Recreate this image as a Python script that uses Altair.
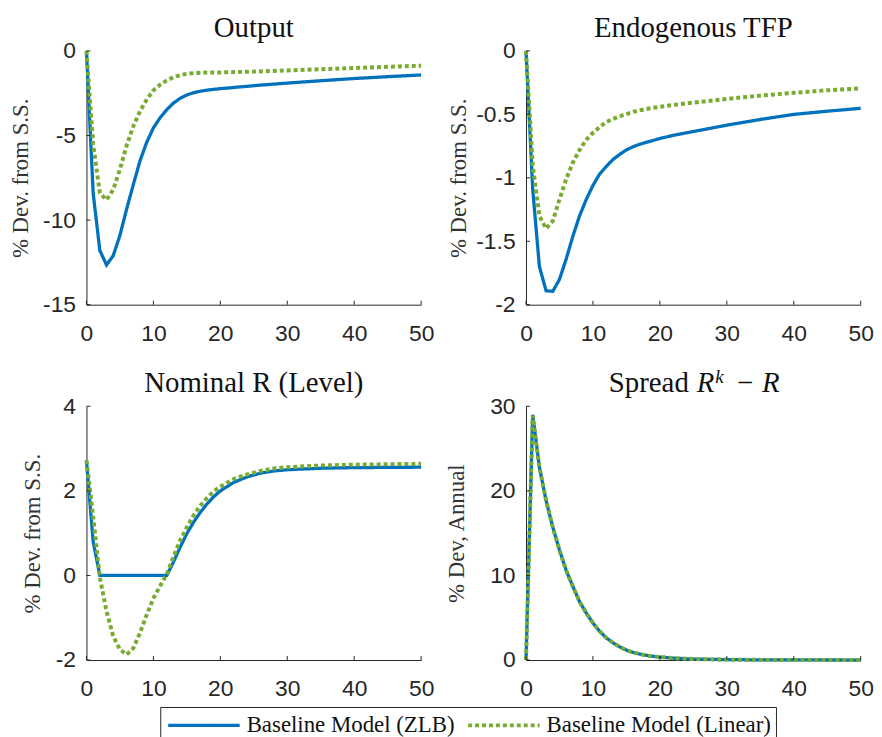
import altair as alt
import pandas as pd

# ---------------- data ----------------
t = list(range(0, 21)) + [22, 24, 26, 28, 30, 35, 40, 45, 50]

output_zlb = [0, -8.4, -11.8, -12.65, -12.1, -10.9, -9.35, -7.9, -6.5, -5.4, -4.55,
              -3.95, -3.47, -3.08, -2.8, -2.6, -2.47, -2.38, -2.32, -2.27, -2.23,
              -2.16, -2.09, -2.02, -1.96, -1.9, -1.76, -1.63, -1.52, -1.42]
output_lin = [0, -5.5, -8.4, -8.8, -8.2, -7.0, -5.6, -4.45, -3.56, -2.88, -2.33,
              -2.0, -1.74, -1.55, -1.43, -1.35, -1.31, -1.29, -1.28, -1.27, -1.27,
              -1.25, -1.23, -1.21, -1.18, -1.15, -1.08, -1.01, -0.94, -0.87]

tfp_zlb = [0, -1.09, -1.70, -1.89, -1.895, -1.80, -1.64, -1.46, -1.30, -1.17, -1.06,
           -0.97, -0.91, -0.855, -0.815, -0.78, -0.755, -0.735, -0.72, -0.705, -0.69,
           -0.665, -0.645, -0.625, -0.605, -0.585, -0.54, -0.50, -0.475, -0.452]
tfp_lin = [0, -0.9, -1.30, -1.40, -1.34, -1.17, -1.01, -0.88, -0.78, -0.70, -0.645,
           -0.60, -0.56, -0.536, -0.515, -0.497, -0.48, -0.468, -0.457, -0.448, -0.44,
           -0.426, -0.413, -0.401, -0.39, -0.378, -0.352, -0.33, -0.31, -0.295]

rate_zlb = [2.72, 0.8, 0, 0, 0, 0, 0, 0, 0, 0, 0,
            0, 0, 0.32, 0.67, 0.99, 1.26, 1.49, 1.69, 1.86, 2.0,
            2.2, 2.33, 2.42, 2.47, 2.5, 2.535, 2.55, 2.555, 2.56]
rate_lin = [2.72, 1.4, -0.05, -0.85, -1.44, -1.75, -1.87, -1.72, -1.36, -0.93, -0.54,
            -0.25, 0.03, 0.44, 0.83, 1.14, 1.42, 1.65, 1.83, 1.99, 2.10,
            2.28, 2.39, 2.47, 2.53, 2.56, 2.60, 2.62, 2.63, 2.64]

spread_zlb = [0, 29.0, 22.8, 18.85, 15.7, 13.0, 10.6, 8.7, 6.9, 5.55, 4.38,
              3.4, 2.62, 2.03, 1.56, 1.17, 0.9, 0.7, 0.55, 0.43, 0.35,
              0.22, 0.15, 0.1, 0.07, 0.05, 0.02, 0.01, 0.005, 0.0]
spread_lin = [0, 28.9, 22.8, 18.85, 15.7, 13.0, 10.6, 8.7, 6.9, 5.55, 4.38,
              3.4, 2.62, 2.03, 1.56, 1.17, 0.9, 0.7, 0.55, 0.43, 0.35,
              0.22, 0.15, 0.1, 0.07, 0.05, 0.02, 0.01, 0.005, 0.0]

series_names = ["Baseline Model (ZLB)", "Baseline Model (Linear)"]
x_ticks = [0, 10, 20, 30, 40, 50]
output_ticks = [-15, -10, -5, 0]
tfp_ticks = [-2, -1.5, -1, -0.5, 0]
rate_ticks = [-2, 0, 2, 4]
spread_ticks = [0, 10, 20, 30]

# ---------------- style ----------------
W, H = 337, 255.5
BLUE = "#0072BD"
GREEN = "#77AC30"
AX = "#262626"
SERIF = "Liberation Serif"
SANS = "Liberation Sans"
TITLE_SIZE = 29
LABEL_SIZE = 23


def text_piece(text, x, y, size, style="normal", align="left"):
    return alt.Chart(pd.DataFrame({"k": [0]})).mark_text(
        text=text, font=SERIF, fontSize=size, fontStyle=style, align=align,
        baseline="alphabetic", color="#111111"
    ).encode(x=alt.value(x), y=alt.value(y))


def panel(zlb, lin, ydomain, yticks, ylabel, ylabel_x, title_layers):
    df = pd.DataFrame({
        "t": t + t,
        "v": zlb + lin,
        "s": [series_names[0]] * len(t) + [series_names[1]] * len(t),
    })
    xs = alt.Scale(domain=[0, 50], nice=False, zero=False)
    ys = alt.Scale(domain=ydomain, nice=False, zero=False)
    xaxis = alt.Axis(values=x_ticks, ticks=False, grid=False, domainColor=AX,
                     labelFont=SANS, labelFontSize=LABEL_SIZE, labelColor=AX,
                     labelPadding=17.6, labelExpr="'' + datum.value", title=None,
                     labelFlush=False, labelOverlap=False)
    yaxis = alt.Axis(values=yticks, ticks=False, grid=False, domainColor=AX,
                     labelFont=SANS, labelFontSize=LABEL_SIZE, labelColor=AX,
                     labelPadding=11, labelExpr="'' + datum.value",
                     labelFlush=False, labelOverlap=False,
                     title=ylabel, titleFont=SERIF, titleFontSize=23,
                     titleFontWeight="normal", titleColor="#333333",
                     titleX=ylabel_x, titleY=H / 2, titleBaseline="middle")
    lines = alt.Chart(df).mark_line(clip=False).encode(
        x=alt.X("t:Q", scale=xs, axis=xaxis),
        y=alt.Y("v:Q", scale=ys, axis=yaxis),
        color=alt.Color("s:N", scale=alt.Scale(domain=series_names, range=[BLUE, GREEN]),
                        legend=alt.Legend(title=None)),
        strokeDash=alt.StrokeDash("s:N", scale=alt.Scale(domain=series_names,
                                                         range=[[1, 0], [4, 3]]),
                                  legend=alt.Legend(title=None)),
        strokeWidth=alt.StrokeWidth("s:N", scale=alt.Scale(domain=series_names,
                                                           range=[3.3, 4]),
                                    legend=None),
    )
    xt = alt.Chart(pd.DataFrame({"t": x_ticks})).mark_rule(color=AX, strokeWidth=1).encode(
        x=alt.X("t:Q", scale=xs), y=alt.value(H), y2=alt.value(H - 4))
    yt = alt.Chart(pd.DataFrame({"v": yticks})).mark_rule(color=AX, strokeWidth=1).encode(
        y=alt.Y("v:Q", scale=ys), x=alt.value(0), x2=alt.value(4))
    return alt.layer(lines, xt, yt, *title_layers).properties(width=W, height=H)


TY = -14.5
p1 = panel(output_zlb, output_lin, [-15, 0], output_ticks, "% Dev. from S.S.", -66.7,
           [text_piece("Output", W / 2, TY, TITLE_SIZE, align="center")])
p2 = panel(tfp_zlb, tfp_lin, [-2, 0], tfp_ticks, "% Dev. from S.S.", -68,
           [text_piece("Endogenous TFP", W / 2, TY, TITLE_SIZE, align="center")])
p3 = panel(rate_zlb, rate_lin, [-2, 4], rate_ticks, "% Dev. from S.S.", -54,
           [text_piece("Nominal R (Level)", W / 2, TY, TITLE_SIZE, align="center")])
p4 = panel(spread_zlb, spread_lin, [0, 30], spread_ticks, "% Dev, Annual", -70,
           [text_piece("Spread", 83.4, TY, TITLE_SIZE),
            text_piece("R", 172, TY, TITLE_SIZE, style="italic"),
            text_piece("k", 190.5, TY - 9, 19, style="italic"),
            text_piece("\u2212", 212.5, TY, TITLE_SIZE),
            text_piece("R", 237.5, TY, TITLE_SIZE, style="italic")])

chart = alt.concat(p1, p2, p3, p4, columns=2,
                   spacing={"row": 101.8, "column": 105.6}).properties(
    bounds="flush",
    padding={"left": 1, "top": 2.7, "right": 0, "bottom": 0},
).configure_view(stroke=None).configure_axis(
    domainWidth=1
).configure_legend(
    orient="none", legendX=74.3, legendY=660.6, direction="horizontal",
    symbolType="M-3,0H3", symbolSize=576, symbolStrokeWidth=2.5,
    symbolOffset=25.5, labelOffset=29,
    labelFont=SERIF, labelFontSize=23, labelColor="#111111",
    labelLimit=400, columnPadding=4, padding=4.5, strokeColor=AX, fillColor="white",
)

chart.save("out.html", embed_options={"renderer": "svg", "actions": False})
